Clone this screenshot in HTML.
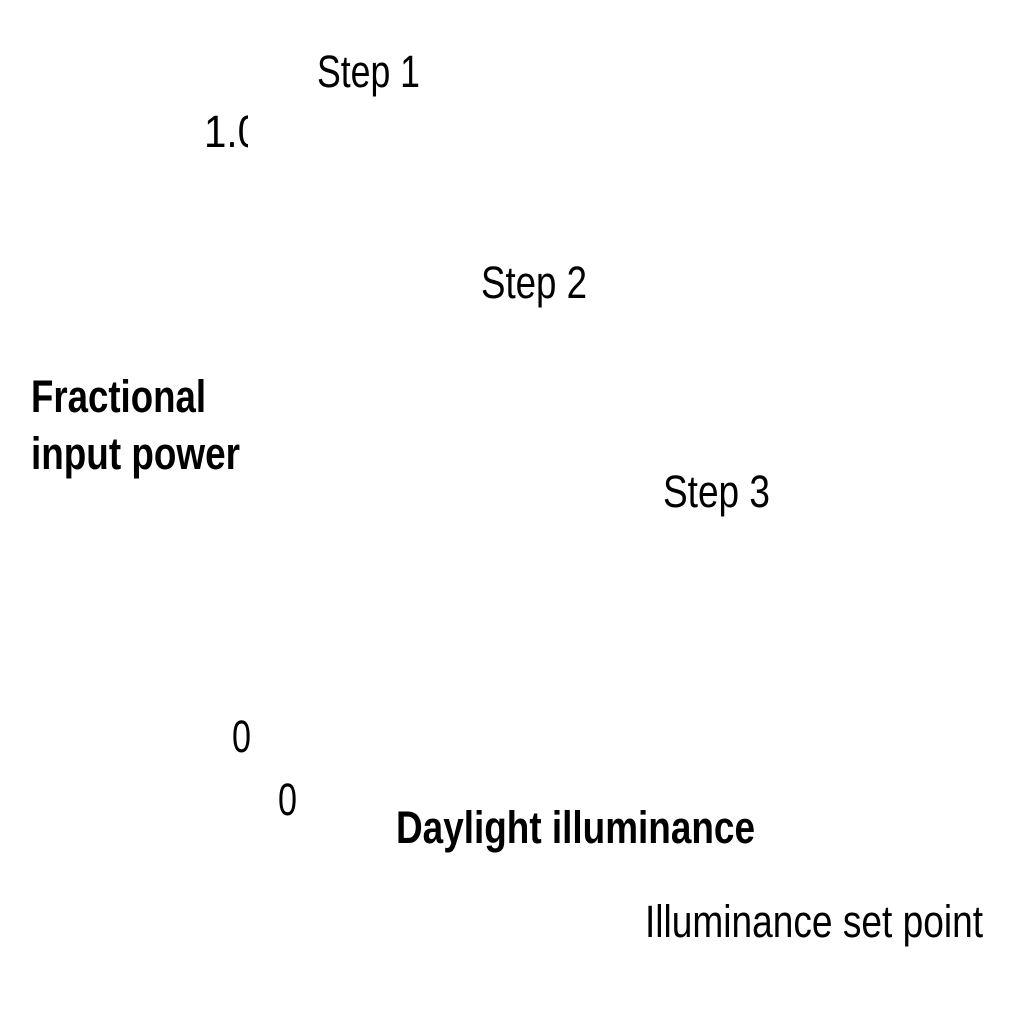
<!DOCTYPE html>
<html><head><meta charset="utf-8"><style>
html,body{margin:0;padding:0;background:#fff;}
body{width:1027px;height:1026px;position:relative;overflow:hidden;font-family:"Liberation Sans",sans-serif;color:#000;}
.t{position:absolute;font-size:45px;line-height:45px;white-space:nowrap;transform-origin:0 0;}
.b{font-weight:bold;}
#clip{position:absolute;left:0;top:100px;width:248px;height:60px;overflow:hidden;}
</style></head><body>
<div class="t" data-w="103" style="left:317px;top:49px">Step 1</div>
<div id="clip"><div class="t" data-w="56" style="left:204px;top:9px">1.0</div></div>
<div class="t" data-w="106" style="left:481px;top:260px">Step 2</div>
<div class="t b" data-w="175" style="left:31px;top:374px">Fractional</div>
<div class="t b" data-w="209" style="left:31px;top:431px">input power</div>
<div class="t" data-w="107" style="left:663px;top:469px">Step 3</div>
<div class="t" data-w="19" style="left:232px;top:714px">0</div>
<div class="t" data-w="19" style="left:278px;top:777px">0</div>
<div class="t b" data-w="359" style="left:396px;top:805px">Daylight illuminance</div>
<div class="t" data-w="338" style="left:645px;top:899px">Illuminance set point</div>
<script>
document.querySelectorAll('.t').forEach(function(e){
  var w=e.getBoundingClientRect().width;
  e.style.transform='scaleX('+(parseFloat(e.dataset.w)/w)+')';
});
</script>
</body></html>
